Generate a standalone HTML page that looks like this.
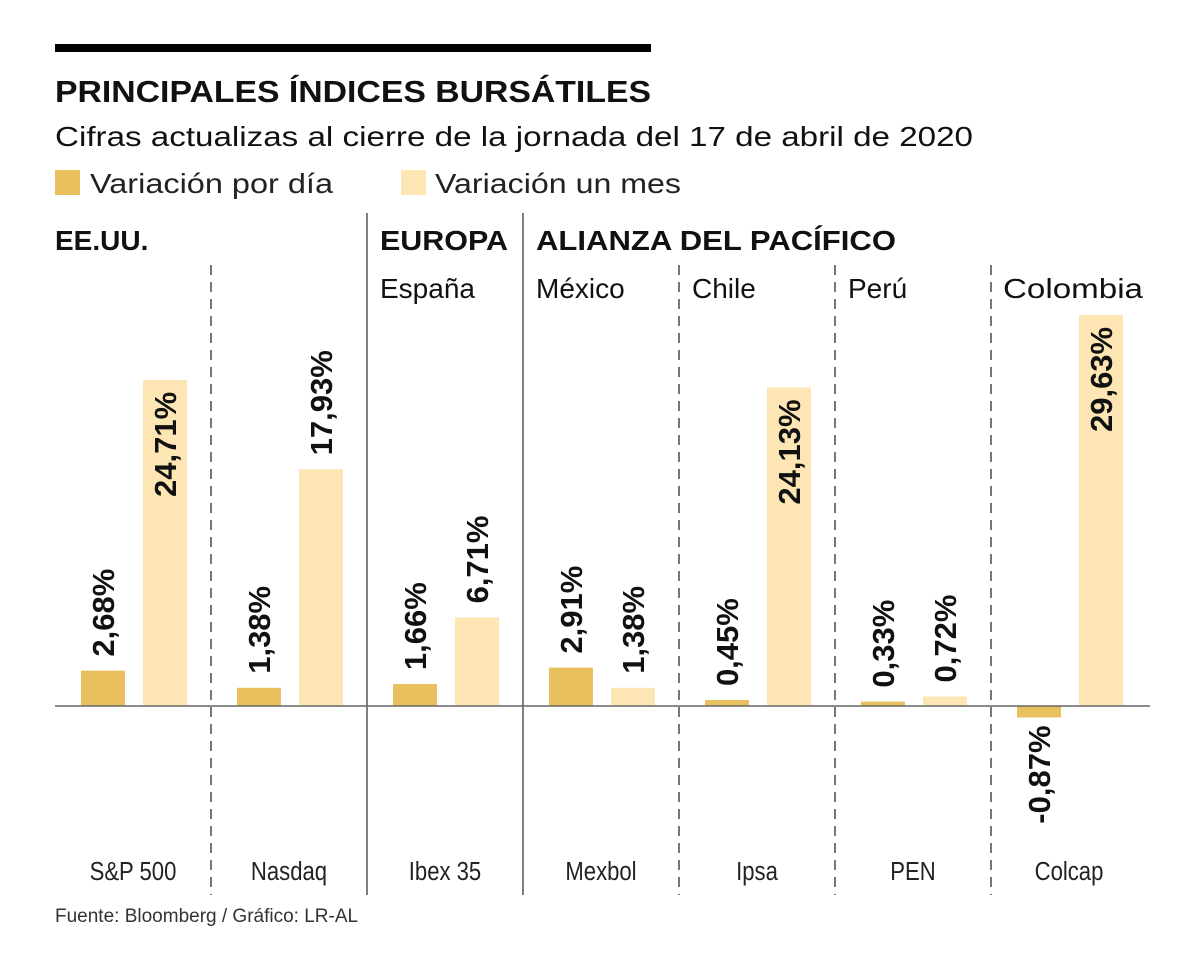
<!DOCTYPE html>
<html><head><meta charset="utf-8"><style>
body{margin:0;background:#fff;}
svg{display:block;font-family:"Liberation Sans",sans-serif;}
</style></head><body>
<svg id="chart" width="1200" height="974" viewBox="0 0 1200 974">
<rect x="55" y="44" width="596" height="8" fill="#000"/>
<text x="55" y="102" font-size="31" font-weight="bold" fill="#111" textLength="596" lengthAdjust="spacingAndGlyphs">PRINCIPALES ÍNDICES BURSÁTILES</text>
<text x="55" y="146" font-size="28" fill="#111" textLength="918" lengthAdjust="spacingAndGlyphs">Cifras actualizas al cierre de la jornada del 17 de abril de 2020</text>
<g>
<rect x="55" y="170" width="25" height="25" fill="#e8c05d"/>
<text x="90" y="193" font-size="28" fill="#222" textLength="243" lengthAdjust="spacingAndGlyphs">Variación  por día</text>
<rect x="401" y="170" width="25" height="25" fill="#fde6b4"/>
<text x="435" y="193" font-size="28" fill="#222" textLength="246" lengthAdjust="spacingAndGlyphs">Variación un mes</text>
</g>
<text x="55" y="250" font-size="28" font-weight="bold" fill="#111">EE.UU.</text>
<text x="380" y="250" font-size="28" font-weight="bold" fill="#111" textLength="128" lengthAdjust="spacingAndGlyphs">EUROPA</text>
<text x="536" y="250" font-size="28" font-weight="bold" fill="#111" textLength="360" lengthAdjust="spacingAndGlyphs">ALIANZA DEL PACÍFICO</text>
<text x="380" y="298" font-size="28" fill="#111">España</text>
<text x="536" y="298" font-size="28" fill="#111">México</text>
<text x="692" y="298" font-size="28" fill="#111">Chile</text>
<text x="848" y="298" font-size="28" fill="#111">Perú</text>
<text x="1003" y="298" font-size="28" fill="#111" textLength="140" lengthAdjust="spacingAndGlyphs">Colombia</text>
<line x1="367" y1="213" x2="367" y2="895" stroke="#555" stroke-width="1.5"/>
<line x1="523" y1="213" x2="523" y2="895" stroke="#555" stroke-width="1.5"/>
<g stroke="#777" stroke-width="2" stroke-dasharray="10,7">
<line x1="211" y1="265" x2="211" y2="895"/>
<line x1="679" y1="265" x2="679" y2="895"/>
<line x1="835" y1="265" x2="835" y2="895"/>
<line x1="991" y1="265" x2="991" y2="895"/>
</g>
<g id="bars"></g>
<line x1="55" y1="706" x2="1150" y2="706" stroke="#666" stroke-width="1.5"/>
<text x="55" y="922" font-size="19" fill="#333">Fuente: Bloomberg / Gráfico: LR-AL</text>
</svg>
<script>
const categories = ["S&P 500","Nasdaq","Ibex 35","Mexbol","Ipsa","PEN","Colcap"];
const dayValues = [2.68,1.38,1.66,2.91,0.45,0.33,-0.87];
const monthValues = [24.71,17.93,6.71,1.38,24.13,0.72,29.63];
const dayLabels = ["2,68%","1,38%","1,66%","2,91%","0,45%","0,33%","-0,87%"];
const monthLabels = ["24,71%","17,93%","6,71%","1,38%","24,13%","0,72%","29,63%"];

const NS="http://www.w3.org/2000/svg";
const g=document.getElementById('bars');
const y0=706, scale=13.2;
function yv(v){return y0 - v*scale;}
function xGroup(i){return 55 + 156*i;}
function mk(t){return document.createElementNS(NS,t);}
function bar(x,v,color,label,name){
  const r=mk('rect');
  const top=Math.min(yv(v),y0), h=Math.abs(yv(v)-y0);
  r.setAttribute('x',x);r.setAttribute('y',top);r.setAttribute('width',44);r.setAttribute('height',h);
  r.setAttribute('fill',color);
  
  
  g.appendChild(r);
  const t=mk('text');
  const cx=x+22;
  let ty, anchor;
  if(v>=20){ty=yv(v)+12;anchor='end';}
  else if(v>=0){ty=yv(v)-14;anchor='start';}
  else{ty=yv(v)+8;anchor='end';}
  t.setAttribute('transform','translate('+(cx+11)+','+ty+') rotate(-90)');
  t.setAttribute('text-anchor',anchor);
  t.setAttribute('font-size','31');t.setAttribute('font-weight','bold');t.setAttribute('fill','#111');
  t.textContent=label;
  
  
  g.appendChild(t);
}
categories.forEach((c,i)=>{
  const gx=xGroup(i);
  bar(gx+26,dayValues[i],'#e8c05d',dayLabels[i],'day-'+i);
  bar(gx+88,monthValues[i],'#fde6b4',monthLabels[i],'month-'+i);
  const t=mk('text');
  t.setAttribute('x',gx+78);t.setAttribute('y',880);t.setAttribute('text-anchor','middle');
  t.setAttribute('font-size','26');t.setAttribute('fill','#222');
  t.setAttribute('transform','translate('+(gx+78)+',0) scale(0.85,1) translate('+(-(gx+78))+',0)');
  t.textContent=c;
  
  
  g.appendChild(t);
});
</script>
</body></html>
